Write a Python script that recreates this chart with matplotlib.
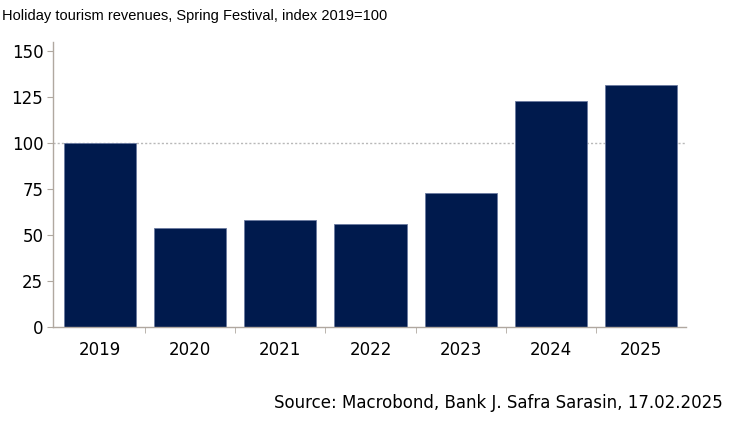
import matplotlib.pyplot as plt
import numpy as np

years = ['2019', '2020', '2021', '2022', '2023', '2024', '2025']
values = [100, 53.8, 58.2, 56.0, 72.8, 122.8, 131.5]

plt.rcParams['font.family'] = ['DejaVu Sans']

fig = plt.figure(figsize=(7.37, 4.25), dpi=100)
ax = fig.add_axes([0.072, 0.2306, 0.859, 0.670])

x = np.arange(len(years))
ax.axhline(100, color='#b8b8b8', linestyle=(0, (1.5, 1.5)), linewidth=1, zorder=1)
ax.bar(x, values, width=0.8, color='#001a4d', edgecolor='#6a7aa0', linewidth=0.6, zorder=2)

ax.set_xlim(-0.52, 6.5)
ax.set_ylim(0, 155)
ax.set_yticks([0, 25, 50, 75, 100, 125, 150])
ax.set_xticks(x)
ax.set_xticklabels(years)
ax.set_xticks(np.arange(0.5, 6, 1), minor=True)
ax.tick_params(axis='x', which='major', length=0, pad=10, labelsize=12)
ax.tick_params(axis='x', which='minor', length=4, color='#b0a8a0')
ax.tick_params(axis='y', length=4, color='#b0a8a0', labelsize=12, pad=3)

for s in ['top', 'right']:
    ax.spines[s].set_visible(False)
for s in ['left', 'bottom']:
    ax.spines[s].set_color('#b0a8a0')
    ax.spines[s].set_linewidth(1)

fig.text(0.003, 0.962, 'Holiday tourism revenues, Spring Festival, index 2019=100',
         fontsize=10.5, va='center', ha='left', family=['Liberation Sans', 'DejaVu Sans'])
fig.text(0.98, 0.052, 'Source: Macrobond, Bank J. Safra Sarasin, 17.02.2025',
         fontsize=12, va='center', ha='right')

fig.savefig('out.png', dpi=100)
